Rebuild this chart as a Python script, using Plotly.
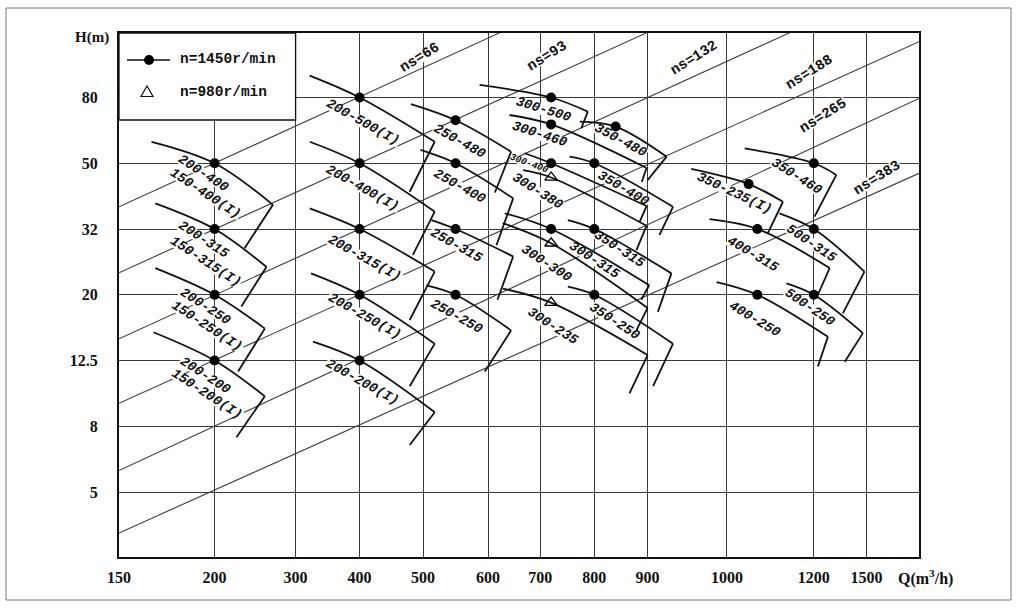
import numpy as np
import plotly.graph_objects as go

# ---------------- axis ticks (values) ----------------
Q_TICKS = [150, 200, 300, 400, 500, 600, 700, 800, 900, 1000, 1200, 1500]
H_TICKS = [5, 8, 12.5, 20, 32, 50, 80]
H_TICK_TEXT = ["5", "8", "12.5", "20", "32", "50", "80"]

# ---------------- pump performance curves (Q in m3/h, H in m) ----------------
PUMP = ["200-400", "200-315", "200-250", "200-200",
        "200-500(I)", "200-400(I)", "200-315(I)", "200-250(I)", "200-200(I)",
        "250-480", "250-400", "250-315", "250-250",
        "300-500", "300-460", "350-480", "300-400", "300-380", "350-400",
        "300-315", "300-300", "350-315", "300-235", "350-250",
        "350-460", "350-235(I)", "400-315", "500-315", "400-250", "500-250"]
SPEED = [1450] * 17 + [980, 1450, 1450, 980, 1450, 980, 1450] + [1450] * 6
RATED_Q = [200, 200, 200, 200, 400, 400, 400, 400, 400, 550, 550, 550, 550,
           720, 720, 840, 720, 720, 800, 720, 720, 800, 720, 800,
           1200, 1050, 1070, 1200, 1070, 1200]
RATED_H = [50, 32, 20, 12.5, 80, 50, 32, 20, 12.5, 68, 50, 32, 20,
           80, 66, 65, 50, 45.4, 50, 32, 28.9, 32, 18.9, 20,
           50, 43.4, 32, 32, 20, 20]
START_Q = [167, 169, 169, 168, 322, 322, 322, 324, 327, 481, 496, 513, 505,
           587, 641, 773, 670, 667, 754, 632, 628, 751, 628, 751,
           1041, 955, 978, 1121, 987, 1137]
START_H = [58.3, 38.1, 24.2, 15.3, 93.5, 58.3, 36.8, 23.3, 14.3, 76.3, 55.0, 34.0, 21.4,
           87.5, 70.6, 67.3, 53.7, 47.7, 52.4, 35.6, 33.3, 34.0, 20.9, 21.2,
           55.6, 48.1, 34.2, 35.6, 21.9, 21.7]
END_Q = [272, 264, 262, 262, 518, 518, 518, 518, 518, 644, 648, 648, 644,
         788, 898, 924, 898, 898, 932, 902, 900, 930, 900, 932,
         1328, 1129, 1290, 1488, 1280, 1479]
END_H = [37.7, 24.4, 15.7, 9.8, 58.3, 36.0, 23.6, 14.1, 8.8, 54.3, 39.4, 26.3, 15.5,
         72.3, 48.4, 52.4, 37.4, 32.7, 37.2, 21.4, 18.2, 23.3, 13.0, 14.1,
         46.2, 38.5, 24.2, 23.6, 14.8, 15.2]
FOOT_Q = [237, 233, 229, 227, 479, 484, 479, 479, 479, 613, 616, 618, 595,
          776, 889, 900, 885, 879, 915, 888, 879, 913, 866, 907,
          1204, 1094, 1223, 1365, 1223, 1376]
FOOT_H = [27.9, 18.4, 11.6, 7.4, 41.2, 26.6, 16.7, 10.5, 7.0, 41.0, 28.5, 19.3, 11.6,
          64.3, 44.0, 44.6, 33.6, 27.5, 30.7, 19.3, 15.5, 17.7, 10.0, 10.5,
          34.8, 31.0, 20.0, 17.5, 12.0, 12.4]

# ---------------- specific-speed lines ----------------
NS_NAME = ["ns=66", "ns=93", "ns=132", "ns=188", "ns=265", "ns=383"]
NS_Q0 = [150, 150, 150, 150, 150, 150]
NS_H0 = [37.2, 23.4, 14.6, 9.35, 5.83, 3.73]
NS_Q1 = [622, 898, 1144, 1800, 1800, 1800]
NS_H1 = [127, 127, 127, 119.2, 79.5, 46.7]

# ---------------- curve labels ----------------
LABEL_TEXT = ["200-400", "150-400(I)", "200-315", "150-315(I)", "200-250", "150-250(I)",
              "200-200", "150-200(I)",
              "200-500(I)", "200-400(I)", "200-315(I)", "200-250(I)", "200-200(I)",
              "250-480", "250-400", "250-315", "250-250",
              "300-500", "300-460", "300-400", "300-380", "350-480", "350-400",
              "300-315", "350-315", "300-300", "350-250", "300-235",
              "350-460", "350-235(I)", "400-315", "500-315", "400-250", "500-250"]
LEGEND_TEXT = ["n=1450r/min", "n=980r/min"]

# ---------------- layout (positions / styles) ----------------
LABEL_Q = [194, 195, 194, 195, 195, 196, 195, 196,
           405, 405, 408, 408, 405,
           556, 556, 551, 551,
           705, 699, 678, 695, 849, 854, 801, 848, 711, 838, 723,
           1160, 1018, 1060, 1194, 1064, 1190]
LABEL_H = [46.7, 40.8, 29.6, 25.3, 18.4, 15.9, 11.3, 9.9,
           66.7, 42.2, 25.9, 17.1, 10.8,
           58.3, 42.6, 28.5, 17.1,
           73.2, 61.2, 49.8, 41.2, 58.7, 42.2, 25.6, 27.7, 25.0, 16.5, 15.9,
           45.6, 40.8, 26.6, 28.9, 16.7, 18.2]
LABEL_ANGLE = [33] * 8 + [29] * 5 + [29] * 4 + [17, 18, 20, 32, 28, 30, 33, 33, 33, 33, 33] + \
              [32, 25, 31, 34, 31, 34]
LABEL_SIZE = [13.5] * 19 + [9.5] + [13.5] * 14
NS_LABEL_Q = [496, 712, 958, 1190, 1250, 1557]
NS_LABEL_H = [106.6, 107.9, 106, 96, 70.1, 45.2]

# non-uniform grid of the printed chart: Q gridlines at these x positions (px from left frame)
Q_GRID = [150, 200, 300, 400, 500, 600, 700, 800, 900, 1000, 1200, 1500, 1800]
X_GRID = [0, 95.6, 176.6, 240.6, 304, 369.1, 421.3, 475.3, 528.6, 607.9, 694.8, 747.6, 800]
H_GRID = [3.125, 5, 8, 12.5, 20, 32, 50, 80, 128]
Y_GRID = [-1, 0, 1, 2, 3, 4, 5, 6, 7]

ML, MR, MT, MB = 119, 105, 33, 57
W, HGT = 1024, 614
PW, PH = W - ML - MR, HGT - MT - MB
Y_MIN, Y_MAX = -0.9886, 6.981
PX_PER_V = PH / (Y_MAX - Y_MIN)


def qx(q):
    return float(np.interp(q, Q_GRID, X_GRID))


def hy(h):
    return float(np.interp(np.log10(h), np.log10(H_GRID), Y_GRID))


def bg_path(u, v, w, h, ang):
    t = np.radians(ang)
    pts = []
    for dx, dy in [(-w / 2, -h / 2), (w / 2, -h / 2), (w / 2, h / 2), (-w / 2, h / 2)]:
        rx = dx * np.cos(t) - dy * np.sin(t)
        ry = dx * np.sin(t) + dy * np.cos(t)
        pts.append((u + rx, v - ry / PX_PER_V))
    return "M" + " L".join(f"{a:.2f},{b:.4f}" for a, b in pts) + " Z"


fig = go.Figure()
shapes = []
annotations = []

# ns lines (below labels' white boxes)
for q0, h0, q1, h1 in zip(NS_Q0, NS_H0, NS_Q1, NS_H1):
    shapes.append(dict(type="line", xref="x", yref="y", x0=qx(q0), y0=hy(h0), x1=qx(q1), y1=hy(h1),
                       line=dict(color="#3a3a3a", width=1.1), layer="between"))

LABEL_FONT = "Liberation Mono"
# white boxes behind labels
for txt, q, h, a, fs in zip(LABEL_TEXT, LABEL_Q, LABEL_H, LABEL_ANGLE, LABEL_SIZE):
    w = len(txt) * 0.6 * fs + 2
    shapes.append(dict(type="path", xref="x", yref="y", path=bg_path(qx(q), hy(h), w, fs * 0.8, a),
                       fillcolor="white", line=dict(width=0), layer="between"))
    annotations.append(dict(x=qx(q), y=hy(h), xref="x", yref="y", text=txt, showarrow=False,
                            textangle=a, font=dict(family=LABEL_FONT, size=fs, color="#111",
                                                   weight="bold", style="italic")))
for txt, q, h in zip(NS_NAME, NS_LABEL_Q, NS_LABEL_H):
    fs = 14.5
    w = len(txt) * 0.6 * fs + 2
    shapes.append(dict(type="path", xref="x", yref="y", path=bg_path(qx(q), hy(h), w, fs * 0.8, -32),
                       fillcolor="white", line=dict(width=0), layer="between"))
    annotations.append(dict(x=qx(q), y=hy(h), xref="x", yref="y", text=txt, showarrow=False,
                            textangle=-32, font=dict(family=LABEL_FONT, size=fs, color="#111",
                                                     weight="bold")))

# legend box
shapes.append(dict(type="rect", xref="x", yref="y", x0=qx(150), x1=qx(300),
                   y0=(492 - 120) / 65.75, y1=Y_MAX, fillcolor="white",
                   line=dict(color="#111", width=1.3), layer="between"))

# curves
cx, cy, fx, fy = [], [], [], []
for i in range(len(PUMP)):
    cx += [qx(START_Q[i]), qx(RATED_Q[i]), qx(END_Q[i]), None]
    cy += [hy(START_H[i]), hy(RATED_H[i]), hy(END_H[i]), None]
    fx += [qx(END_Q[i]), qx(FOOT_Q[i]), None]
    fy += [hy(END_H[i]), hy(FOOT_H[i]), None]

fig.add_trace(go.Scatter(x=cx, y=cy, mode="lines", line=dict(color="#111", width=1.8, shape="spline"),
                         showlegend=False, hoverinfo="skip"))
fig.add_trace(go.Scatter(x=fx, y=fy, mode="lines", line=dict(color="#111", width=1.8),
                         showlegend=False, hoverinfo="skip"))

dq = [qx(q) for q, s in zip(RATED_Q, SPEED) if s == 1450]
dh = [hy(h) for h, s in zip(RATED_H, SPEED) if s == 1450]
tq = [qx(q) for q, s in zip(RATED_Q, SPEED) if s == 980]
th = [hy(h) for h, s in zip(RATED_H, SPEED) if s == 980]
fig.add_trace(go.Scatter(x=dq, y=dh, mode="markers", name=LEGEND_TEXT[0],
                         marker=dict(symbol="circle", size=10, color="#000"), showlegend=False))
fig.add_trace(go.Scatter(x=tq, y=th, mode="markers", name=LEGEND_TEXT[1],
                         marker=dict(symbol="triangle-up-open", size=11, color="#000",
                                     line=dict(width=1.3)), showlegend=False))


def px_to_paper(px, py):
    return (px - ML) / PW, (HGT - MB - py) / PH


# legend symbols
lx0, ly = px_to_paper(127, 60)
lx1, _ = px_to_paper(170, 60)
shapes.append(dict(type="line", xref="paper", yref="paper", x0=lx0, x1=lx1, y0=ly, y1=ly,
                   line=dict(color="#111", width=1.5)))
cxp, cyp = px_to_paper(149, 60)
shapes.append(dict(type="circle", xref="paper", yref="paper", x0=cxp - 5 / PW, x1=cxp + 5 / PW,
                   y0=cyp - 5 / PH, y1=cyp + 5 / PH, fillcolor="#000", line=dict(width=0)))
t1 = px_to_paper(147, 86)
t2 = px_to_paper(141, 96.5)
t3 = px_to_paper(153, 96.5)
shapes.append(dict(type="path", xref="paper", yref="paper",
                   path=f"M{t1[0]},{t1[1]} L{t2[0]},{t2[1]} L{t3[0]},{t3[1]} Z",
                   line=dict(color="#111", width=1.2)))
for txt, py in zip(LEGEND_TEXT, [59, 92]):
    x, y = px_to_paper(178, py)
    annotations.append(dict(x=x, y=y, xref="paper", yref="paper", text=txt, showarrow=False,
                            xanchor="left", yanchor="middle",
                            font=dict(family=LABEL_FONT, size=14.5, color="#111", weight="bold")))

# axis titles
x, y = px_to_paper(92, 38)
annotations.append(dict(x=x, y=y, xref="paper", yref="paper", text="H(m)", showarrow=False,
                        xanchor="center", yanchor="middle",
                        font=dict(family="Liberation Serif", size=15, color="#111", weight="bold")))
x, y = px_to_paper(925, 577)
annotations.append(dict(x=x, y=y, xref="paper", yref="paper", text="Q(m<sup>3</sup>/h)", showarrow=False,
                        xanchor="center", yanchor="middle",
                        font=dict(family="Liberation Serif", size=16, color="#111", weight="bold")))

# outer frame
fx0, fy0 = px_to_paper(6, 600)
fx1, fy1 = px_to_paper(1011, 8)
shapes.append(dict(type="rect", xref="paper", yref="paper", x0=fx0, x1=fx1, y0=fy0, y1=fy1,
                   line=dict(color="#777", width=1)))

fig.update_layout(
    width=W, height=HGT, margin=dict(l=ML, r=MR, t=MT, b=MB, autoexpand=False),
    paper_bgcolor="white", plot_bgcolor="white",
    shapes=shapes, annotations=annotations, showlegend=False,
    xaxis=dict(range=[0, 800], tickvals=[qx(q) for q in Q_TICKS], ticktext=[str(q) for q in Q_TICKS],
               showgrid=True, gridcolor="#3a3a3a", gridwidth=1, zeroline=False,
               showline=True, linecolor="#111", linewidth=2, mirror=True, ticks="",
               ticklabelstandoff=5,
               tickfont=dict(family="Liberation Serif", size=16, color="#111", weight="bold")),
    yaxis=dict(range=[Y_MIN, Y_MAX], tickvals=[hy(h) for h in H_TICKS], ticktext=H_TICK_TEXT,
               showgrid=True, gridcolor="#3a3a3a", gridwidth=1, zeroline=False,
               showline=True, linecolor="#111", linewidth=2, mirror=True, ticks="",
               ticklabelstandoff=16,
               tickfont=dict(family="Liberation Serif", size=16, color="#111", weight="bold")),
)

fig.write_html("out.html", config={"displayModeBar": False},
               post_script="document.body.style.margin='0px';document.body.style.overflow='hidden';")
